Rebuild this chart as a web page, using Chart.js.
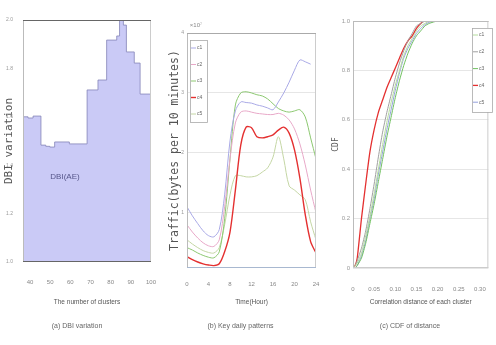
<!DOCTYPE html>
<html>
<head>
<meta charset="utf-8">
<script src="https://cdn.jsdelivr.net/npm/chart.js@4"></script>
<style>
body { margin: 0; background: #fff; }
#wrap { position: relative; width: 496px; height: 345px; overflow: hidden; }
.panel { position: absolute; top: 0; height: 345px; }
</style>
</head>
<body>
<div id="wrap">
  <div class="panel" style="left:0;width:165px"><canvas id="dbiChart" width="165" height="345"></canvas></div>
  <div class="panel" style="left:165px;width:165px"><canvas id="trafficChart" width="165" height="345"></canvas></div>
  <div class="panel" style="left:328px;width:168px"><canvas id="cdfChart" width="168" height="345"></canvas></div>
</div>
<script>
// (a) DBI variation vs number of clusters
const clusterCounts = [36.6, 39, 41.5, 45.4, 47.8, 49.8, 52.2, 59.5, 68.3, 73.7, 78, 83, 84.4, 86.3, 87.8, 91.7, 94.6, 100];
const dbiValues = [1.60, 1.595, 1.603, 1.483, 1.478, 1.475, 1.496, 1.488, 1.711, 1.752, 1.917, 1.934, 2.0, 1.979, 1.868, 1.822, 1.694, 1.694];

// (b) key daily patterns, x10^7 bytes per 10 minutes
const hours = [0, 1, 2, 3, 4, 5, 6, 7, 8, 9, 10, 11, 12, 13, 14, 15, 16, 17, 18, 19, 20, 21, 22, 23, 24];
const patternNames = ['c1', 'c2', 'c3', 'c4', 'c5'];
const trafficC1 = [1.1, 0.95, 0.82, 0.7, 0.62, 0.6, 0.72, 1.3, 2.2, 2.7, 2.85, 2.84, 2.83, 2.8, 2.78, 2.75, 2.72, 2.85, 3.0, 3.18, 3.38, 3.55, 3.52, 3.48, null];
const trafficC2 = [0.8, 0.68, 0.58, 0.5, 0.45, 0.44, 0.55, 1.1, 1.9, 2.5, 2.68, 2.7, 2.68, 2.66, 2.65, 2.64, 2.64, 2.66, 2.63, 2.55, 2.4, 2.15, 1.8, 1.38, 1.0];
const trafficC3 = [0.42, 0.38, 0.33, 0.29, 0.26, 0.25, 0.35, 0.9, 1.9, 2.8, 3.0, 3.02, 3.0, 2.97, 2.95, 2.9, 2.82, 2.74, 2.7, 2.68, 2.7, 2.72, 2.6, 2.25, 1.9];
const trafficC4 = [0.27, 0.22, 0.18, 0.15, 0.13, 0.12, 0.15, 0.35, 0.68, 1.38, 2.13, 2.43, 2.42, 2.27, 2.25, 2.27, 2.3, 2.38, 2.43, 2.33, 2.05, 1.58, 0.97, 0.52, 0.33];
const trafficC5 = [0.55, 0.48, 0.42, 0.37, 0.34, 0.33, 0.42, 0.8, 1.3, 1.62, 1.62, 1.6, 1.6, 1.62, 1.68, 1.75, 1.93, 2.27, 1.9, 1.45, 1.38, 1.3, 1.22, 0.85, 0.55];

// (c) CDF of correlation distance
const distances = [0, 0.005, 0.01, 0.02, 0.03, 0.04, 0.05, 0.06, 0.07, 0.08, 0.09, 0.1, 0.11, 0.12, 0.13, 0.14, 0.15, 0.16, 0.17, 0.18, 0.2, 0.25, 0.32];
const cdfC1 = [0, 0.01, 0.02, 0.06, 0.13, 0.21, 0.3, 0.4, 0.5, 0.59, 0.67, 0.74, 0.8, 0.86, 0.9, 0.93, 0.96, 0.98, 0.99, 1, 1, 1, 1];
const cdfC2 = [0, 0.01, 0.03, 0.08, 0.15, 0.24, 0.34, 0.45, 0.55, 0.63, 0.7, 0.77, 0.83, 0.88, 0.92, 0.95, 0.98, 0.99, 1, 1, 1, 1, 1];
const cdfC3 = [0, 0, 0.01, 0.04, 0.1, 0.18, 0.26, 0.35, 0.44, 0.53, 0.61, 0.69, 0.76, 0.82, 0.87, 0.91, 0.94, 0.96, 0.98, 0.99, 1, 1, 1];
const cdfC4 = [0, 0.01, 0.04, 0.2, 0.34, 0.47, 0.56, 0.63, 0.68, 0.73, 0.77, 0.81, 0.85, 0.89, 0.92, 0.94, 0.97, 0.99, 1, 1, 1, 1, 1];
const cdfC5 = [0, 0, 0.01, 0.05, 0.11, 0.2, 0.28, 0.38, 0.47, 0.56, 0.64, 0.72, 0.79, 0.85, 0.89, 0.92, 0.95, 0.97, 0.985, 0.995, 1, 1, 1];

const lineColors = ['#a9a9e6', '#e8a8c8', '#8cc870', '#e43030', '#c4d6a4'];
const cdfColors = ['#b4dc9c', '#a0a0a0', '#70c060', '#e43030', '#94a0dc'];

Chart.defaults.font.family = "'Liberation Sans Narrow', 'Liberation Sans', sans-serif";
Chart.defaults.color = '#777';
Chart.defaults.animation = false;

const pts = (xs, ys) => xs.map((x, i) => ({ x: x, y: ys[i] }));

// box around plot area, each side with its own colour
const frame = {
    id: 'frame',
    afterDatasetsDraw(chart, args, o) {
        const { left, right, top, bottom } = chart.chartArea;
        const ctx = chart.ctx;
        const side = (c, x1, y1, x2, y2) => {
            ctx.strokeStyle = c;
            ctx.beginPath(); ctx.moveTo(x1, y1); ctx.lineTo(x2, y2); ctx.stroke();
        };
        ctx.save();
        ctx.lineWidth = 1;
        side(o.left, left + 0.5, top, left + 0.5, bottom);
        side(o.right, right - 0.5, top, right - 0.5, bottom);
        side(o.top, left, top + 0.5, right, top + 0.5);
        side(o.bottom, left, bottom - 0.5, right, bottom - 0.5);
        (o.notes || []).forEach(n => {
            ctx.font = n.font;
            ctx.fillStyle = n.color;
            ctx.textAlign = 'center';
            ctx.textBaseline = 'middle';
            ctx.fillText(n.text, n.x, n.y);
        });
        ctx.restore();
    }
};

// small boxed legend drawn inside the plot
const boxLegend = {
    id: 'boxLegend',
    afterDatasetsDraw(chart, args, o) {
        if (!o.display) return;
        const ctx = chart.ctx;
        ctx.save();
        ctx.fillStyle = '#fff';
        ctx.fillRect(o.left, o.top, o.width, o.height);
        ctx.strokeStyle = '#aaa';
        ctx.lineWidth = 0.8;
        ctx.strokeRect(o.left + 0.5, o.top + 0.5, o.width, o.height);
        ctx.font = o.font;
        ctx.textBaseline = 'middle';
        chart.data.datasets.forEach((ds, i) => {
            const y = o.top + o.first + i * o.gap;
            ctx.strokeStyle = ds.borderColor;
            ctx.lineWidth = ds.borderWidth;
            ctx.beginPath();
            ctx.moveTo(o.left + 1, y);
            ctx.lineTo(o.left + 1 + o.sample, y);
            ctx.stroke();
            ctx.fillStyle = '#666';
            ctx.fillText(ds.label, o.left + o.sample + 2, y);
        });
        ctx.restore();
    }
};

const captionFont = { size: 7, weight: 'normal', family: "'Liberation Sans Narrow', 'Liberation Sans', sans-serif" };

new Chart(document.getElementById('dbiChart'), {
    type: 'line',
    data: {
        datasets: [{
            label: 'DBI',
            data: pts(clusterCounts, dbiValues),
            stepped: true,
            borderColor: '#8484b8',
            borderWidth: 0.8,
            backgroundColor: 'rgb(202,202,246)',
            fill: 'start',
            pointRadius: 0
        }]
    },
    options: {
        responsive: false,
        layout: { padding: { top: 20, right: 11, left: 0, bottom: 0 } },
        plugins: {
            legend: { display: false },
            tooltip: { enabled: false },
            title: { display: true, position: 'bottom', text: '(a) DBI variation', color: '#666', font: captionFont, padding: { top: 4, bottom: 15 } },
            frame: {
                top: '#666', bottom: '#666', left: '#bbb', right: '#ccc',
                notes: [{ text: 'DBI(AE)', x: 65, y: 177, font: '8px "Liberation Sans"', color: '#56568a' }]
            }
        },
        scales: {
            x: {
                type: 'linear', min: 36.5, max: 100,
                grid: { display: false }, border: { display: false },
                ticks: { stepSize: 10, includeBounds: false, padding: 9, font: { size: 6 }, color: '#888' },
                title: { display: true, text: 'The number of clusters', color: '#555', font: { size: 6.5 }, padding: { top: 2, bottom: 11 } },
                afterFit: s => { s.height = 55.6; }
            },
            y: {
                min: 1, max: 2,
                grid: { display: false }, border: { display: false },
                ticks: { stepSize: 0.2, padding: 2, font: { size: 5 }, color: '#999' },
                title: { display: true, text: 'DBI variation', color: '#555', font: { size: 11, family: "'DejaVu Sans Mono'" }, padding: { top: 3, bottom: 0 } },
                afterFit: s => { s.width = 23; }
            }
        }
    },
    plugins: [frame]
});

const trafficSeries = [trafficC1, trafficC2, trafficC3, trafficC4, trafficC5];
new Chart(document.getElementById('trafficChart'), {
    type: 'line',
    data: {
        datasets: trafficSeries.map((vals, i) => ({
            label: patternNames[i],
            data: pts(hours, vals),
            borderColor: lineColors[i],
            borderWidth: i === 3 ? 1.4 : 1,
            pointRadius: 0,
            tension: 0.3,
            fill: false
        }))
    },
    options: {
        responsive: false,
        layout: { padding: { top: 33, right: 14, left: 0, bottom: 0 } },
        plugins: {
            legend: { display: false },
            tooltip: { enabled: false },
            title: { display: true, position: 'bottom', text: '(b) Key daily patterns', color: '#666', font: captionFont, padding: { top: 4, bottom: 15 } },
            frame: {
                top: '#aaa', bottom: '#a8b8d0', left: '#bbb', right: '#ccc',
                notes: [{ text: '\u00d710\u2077', x: 31, y: 25, font: '6px "Liberation Sans"', color: '#888' }]
            },
            boxLegend: { display: true, left: 25, top: 40, width: 17, height: 82, first: 8, gap: 16.5, sample: 5, font: '5px "Liberation Sans"' }
        },
        scales: {
            x: {
                type: 'linear', min: 0, max: 24,
                grid: { display: false }, border: { display: false },
                ticks: { stepSize: 4, padding: 5, font: { size: 6 }, color: '#888' },
                title: { display: true, text: 'Time(Hour)', color: '#555', font: { size: 6.5 }, padding: { top: 2, bottom: 11 } },
                afterFit: s => { s.height = 49.6; }
            },
            y: {
                min: 0.08, max: 4,
                grid: { color: '#e6e6e6', drawTicks: false }, border: { display: false },
                ticks: { stepSize: 1, includeBounds: false, padding: 3, font: { size: 5 }, color: '#999' },
                title: { display: true, text: 'Traffic(bytes per 10 minutes)', color: '#555', font: { size: 11.5, family: "'DejaVu Sans Mono'" }, padding: { top: 3, bottom: 0 } },
                afterFit: s => { s.width = 22; }
            }
        }
    },
    plugins: [frame, boxLegend]
});

const cdfSeries = [cdfC1, cdfC2, cdfC3, cdfC4, cdfC5];
new Chart(document.getElementById('cdfChart'), {
    type: 'line',
    data: {
        datasets: cdfSeries.map((vals, i) => ({
            label: patternNames[i],
            data: pts(distances, vals),
            borderColor: cdfColors[i],
            borderWidth: i === 3 ? 1.3 : 1,
            pointRadius: 0,
            tension: 0.2,
            fill: false
        }))
    },
    options: {
        responsive: false,
        layout: { padding: { top: 21, right: 4, left: 0, bottom: 0 } },
        plugins: {
            legend: { display: false },
            tooltip: { enabled: false },
            title: { display: true, position: 'bottom', text: '(c) CDF of distance', color: '#666', font: captionFont, padding: { top: 4, bottom: 15 } },
            frame: { top: '#bbb', bottom: '#ccc', left: '#bbb', right: '#ccc' },
            boxLegend: { display: true, left: 144, top: 28, width: 20, height: 84, first: 7, gap: 16.8, sample: 5, font: '5px "Liberation Sans"' }
        },
        scales: {
            x: {
                type: 'linear', min: 0, max: 0.32,
                grid: { display: false }, border: { display: false },
                ticks: { stepSize: 0.05, includeBounds: false, padding: 10, font: { size: 6 }, color: '#888' },
                title: { display: true, text: 'Correlation distance of each cluster', color: '#555', font: { size: 6.5 }, padding: { top: 2, bottom: 11 } },
                afterFit: s => { s.height = 49.6; }
            },
            y: {
                min: 0, max: 1,
                grid: { color: '#e6e6e6', drawTicks: false }, border: { display: false },
                ticks: { stepSize: 0.2, padding: 3, font: { size: 6 }, color: '#999' },
                title: { display: true, text: 'CDF', color: '#555', font: { size: 8, family: "'DejaVu Sans Mono'" }, padding: { top: 3, bottom: 0 } },
                afterFit: s => { s.width = 25; }
            }
        }
    },
    plugins: [frame, boxLegend]
});
</script>
</body>
</html>
